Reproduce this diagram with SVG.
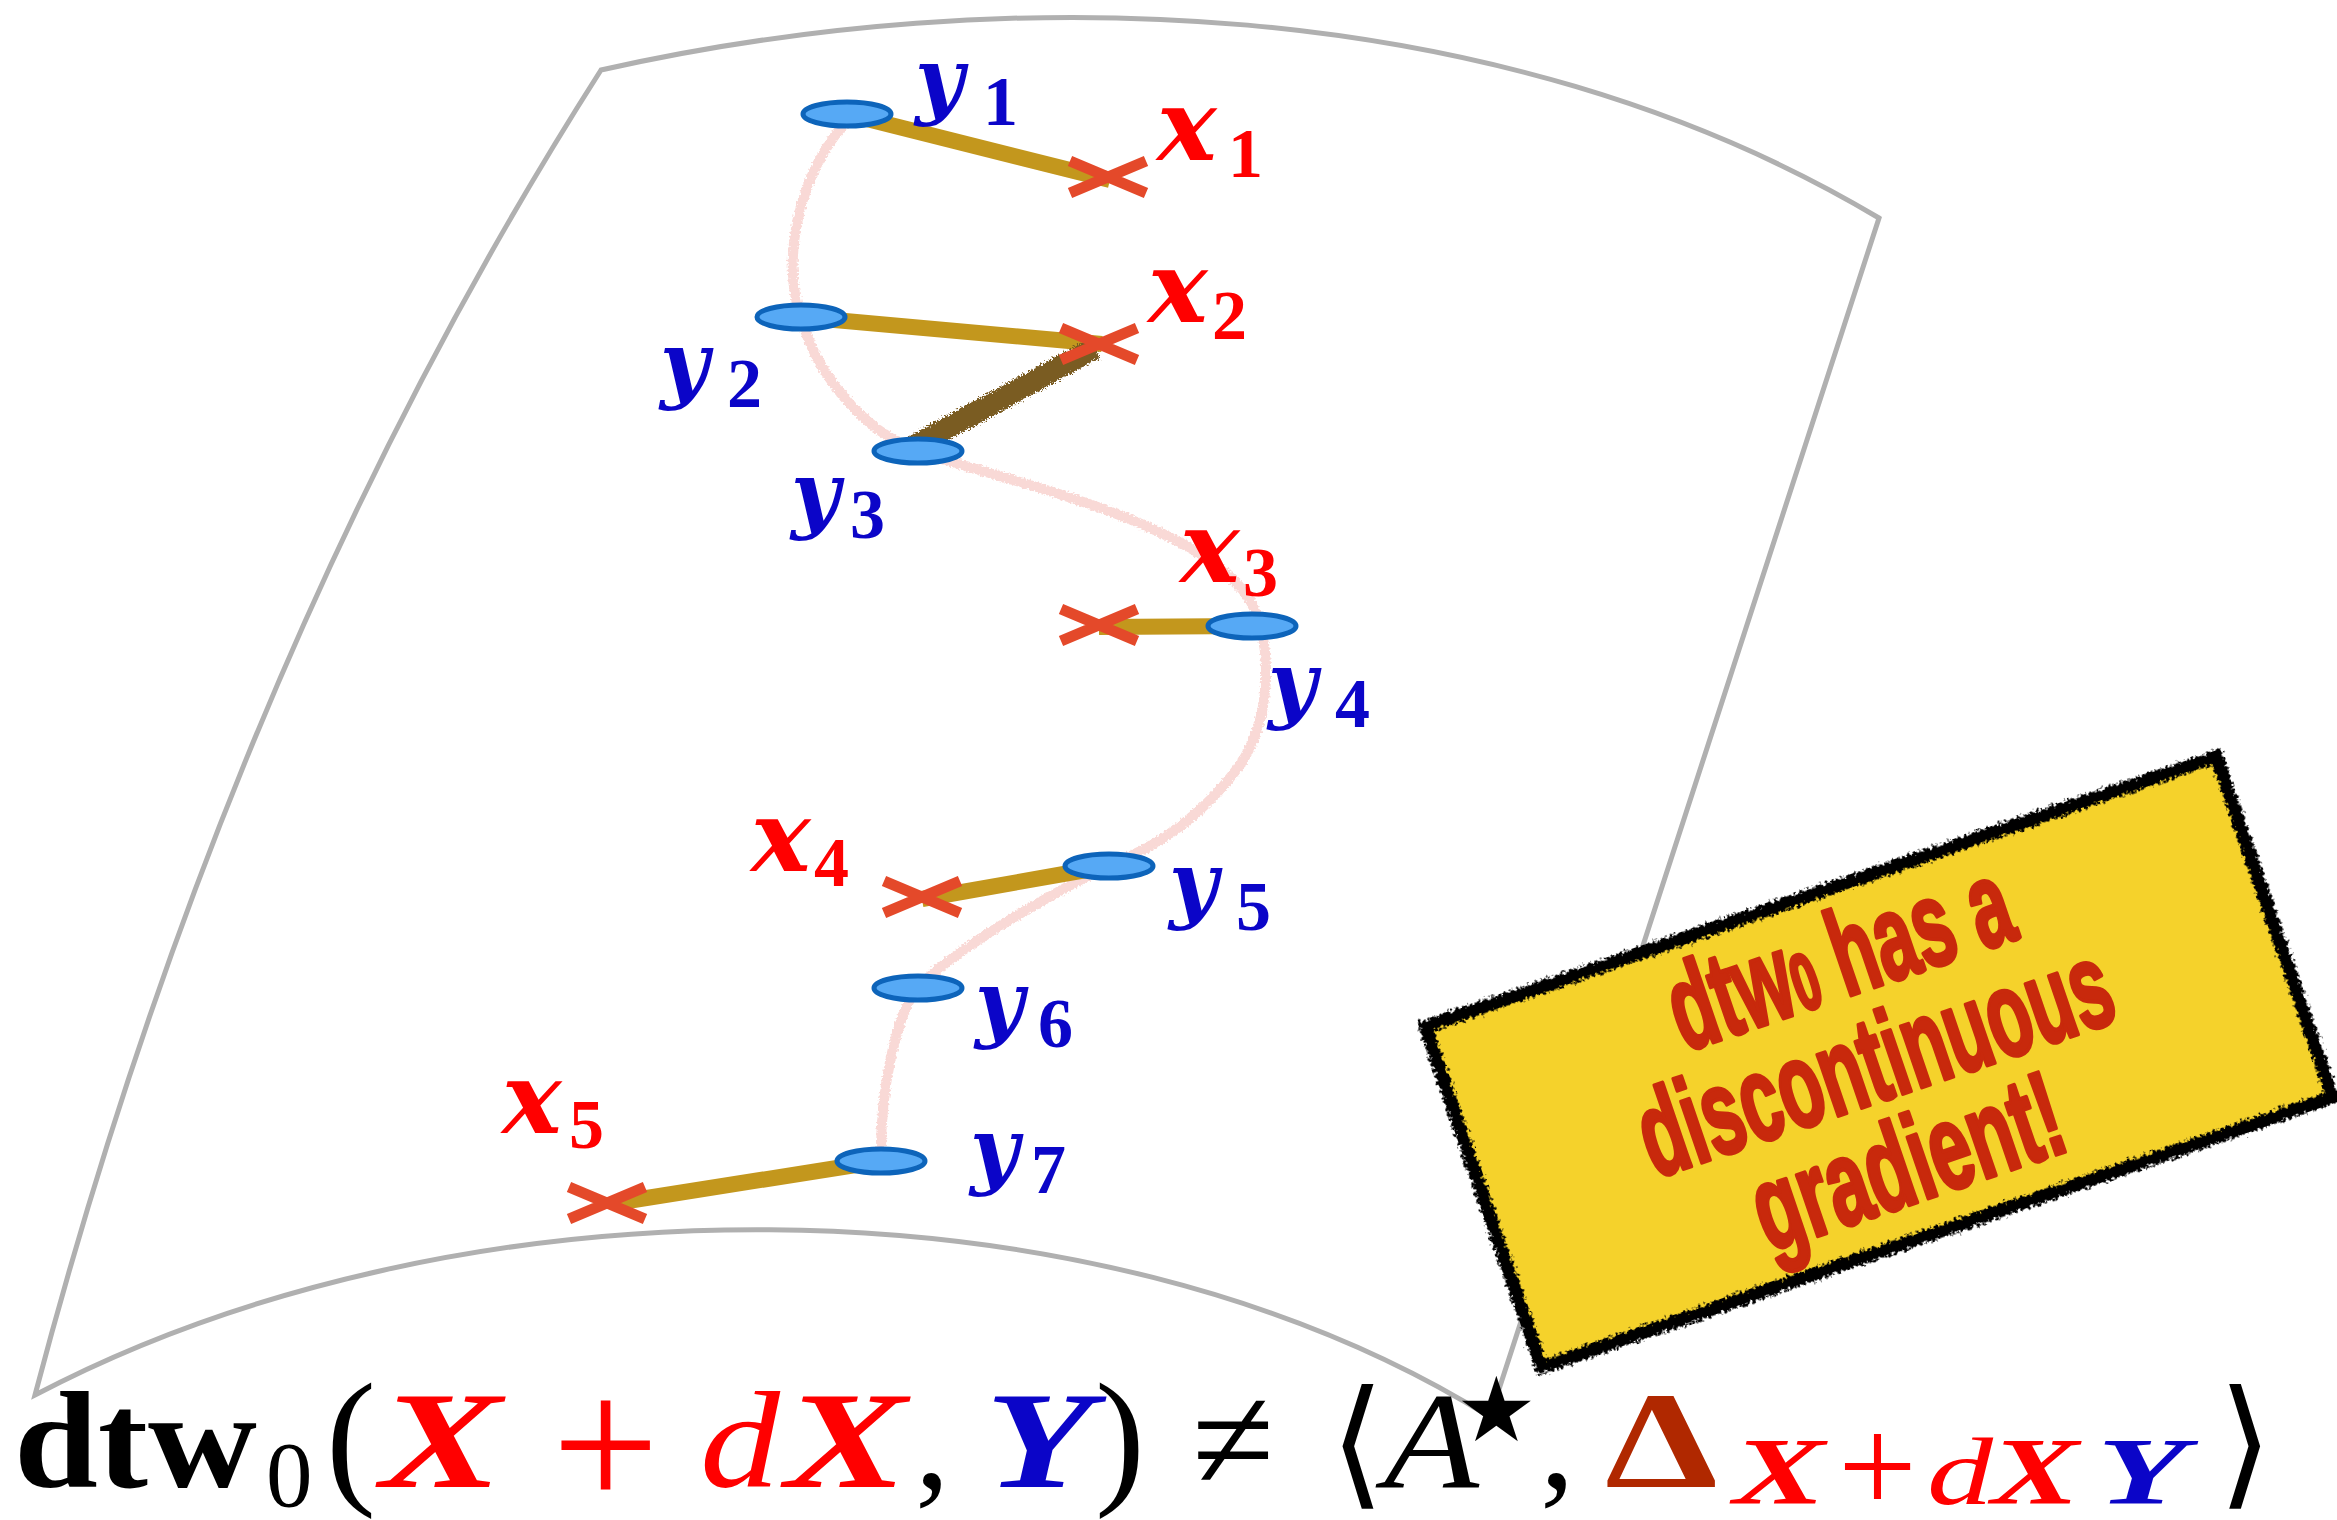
<svg xmlns="http://www.w3.org/2000/svg" width="2337" height="1520" viewBox="0 0 2337 1520">
<style>
.lab{font-family:"DejaVu Serif","Liberation Serif",serif;font-weight:bold;font-style:italic;font-size:84px}
.xl{font-size:100px}
.sub{font-family:"Liberation Serif",serif;font-style:normal;font-size:70px}
.blue{fill:#0b05c8}
.red{fill:#ff0000}
.node{fill:#56a9f5;stroke:#0d64ba;stroke-width:5}
.cross{stroke:#e4492a;stroke-width:11;stroke-linecap:butt}
.gold{stroke:#c3971d;stroke-width:16;stroke-linecap:butt;fill:none}
.brown{stroke:#7a5b22;stroke-width:22;stroke-linecap:butt;fill:none}
.bi{font-weight:bold;font-style:italic}
.note{font-family:"Liberation Sans Narrow","Liberation Sans",sans-serif;font-weight:bold;fill:#c8290c;stroke:#c8290c;stroke-width:4;stroke-linejoin:round}
</style>
<defs>
<filter id="pencil" x="-10%" y="-10%" width="120%" height="120%">
<feTurbulence type="fractalNoise" baseFrequency="0.5" numOctaves="2" seed="2" result="n"/>
<feDisplacementMap in="SourceGraphic" in2="n" scale="6" xChannelSelector="R" yChannelSelector="G"/>
</filter>
<filter id="roughB" x="-20%" y="-20%" width="140%" height="140%">
<feTurbulence type="fractalNoise" baseFrequency="0.6" numOctaves="2" seed="5" result="n"/>
<feDisplacementMap in="SourceGraphic" in2="n" scale="9" xChannelSelector="R" yChannelSelector="G"/>
</filter>
<filter id="roughBorder" x="-5%" y="-5%" width="110%" height="110%">
<feTurbulence type="fractalNoise" baseFrequency="0.3" numOctaves="2" seed="7" result="n"/>
<feDisplacementMap in="SourceGraphic" in2="n" scale="11" xChannelSelector="R" yChannelSelector="G"/>
</filter>
</defs>
<rect width="2337" height="1520" fill="#fff"/>
<g id="sheet" fill="none" stroke="#b0b0b0" stroke-width="5" stroke-linejoin="miter">
<path d="M601,70 C1001,-20 1499,-9 1879,218 L1490,1417 C1090,1168 455,1174 35,1395 Q232,648 601,70 Z"/>
</g>
<g id="connectors">
<path id="warp-path" d="M848,120 C800,170 780,260 801,317 C815,370 860,430 918,451 C1000,480 1200,520 1250,600 C1275,650 1270,720 1240,765 C1200,820 1150,850 1107,866 C1050,895 960,945 917,988 C895,1020 880,1090 881,1161" fill="none" stroke="#f9d9d6" stroke-width="10" filter="url(#pencil)"/>
<line class="gold" x1="847" y1="114" x2="1110" y2="180"/>
<line class="gold" x1="801" y1="317" x2="1102" y2="344"/>
<line class="gold" x1="1252" y1="626" x2="1099" y2="627"/>
<line class="gold" x1="1109" y1="866" x2="922" y2="899"/>
<line class="gold" x1="881" y1="1161" x2="615" y2="1203"/>
<line class="brown" x1="1095" y1="348" x2="912" y2="447" filter="url(#roughB)"/>
<line class="brown" x1="920" y1="900" x2="920" y2="984" filter="url(#roughB)"/>
</g>
<g id="x1"><path class="cross" d="M1070,161 L1146,193 M1070,193 L1146,161"/><text class="lab xl red" x="1157" y="160">x<tspan class="sub" x="1228" y="177">1</tspan></text></g>
<g id="x2"><path class="cross" d="M1061,328 L1137,360 M1061,360 L1137,328"/><text class="lab xl red" x="1148" y="322">x<tspan class="sub" x="1212" y="339">2</tspan></text></g>
<g id="x3"><path class="cross" d="M1061,609 L1137,641 M1061,641 L1137,609"/><text class="lab xl red" x="1180" y="582">x<tspan class="sub" x="1243" y="596">3</tspan></text></g>
<g id="x4"><path class="cross" d="M884,881 L960,913 M884,913 L960,881"/><text class="lab xl red" x="751" y="871">x<tspan class="sub" x="814" y="886">4</tspan></text></g>
<g id="x5"><path class="cross" d="M569,1187 L645,1219 M569,1219 L645,1187"/><text class="lab xl red" x="502" y="1133">x<tspan class="sub" x="569" y="1148">5</tspan></text></g>
<g id="y1"><ellipse class="node" cx="847" cy="114" rx="44" ry="12"/><text class="lab blue" x="915" y="108">y<tspan class="sub" x="983" y="125">1</tspan></text></g>
<g id="y2"><ellipse class="node" cx="801" cy="317" rx="44" ry="12"/><text class="lab blue" x="660" y="392">y<tspan class="sub" x="727" y="407">2</tspan></text></g>
<g id="y3"><ellipse class="node" cx="918" cy="451" rx="44" ry="12"/><text class="lab blue" x="791" y="522">y<tspan class="sub" x="850" y="538">3</tspan></text></g>
<g id="y4"><ellipse class="node" cx="1252" cy="626" rx="44" ry="12"/><text class="lab blue" x="1268" y="712">y<tspan class="sub" x="1335" y="727">4</tspan></text></g>
<g id="y5"><ellipse class="node" cx="1109" cy="866" rx="44" ry="12"/><text class="lab blue" x="1169" y="912">y<tspan class="sub" x="1236" y="930">5</tspan></text></g>
<g id="y6"><ellipse class="node" cx="918" cy="988" rx="44" ry="12"/><text class="lab blue" x="975" y="1031">y<tspan class="sub" x="1038" y="1047">6</tspan></text></g>
<g id="y7"><ellipse class="node" cx="881" cy="1161" rx="44" ry="12"/><text class="lab blue" x="970" y="1178">y<tspan class="sub" x="1031" y="1193">7</tspan></text></g>
<g id="note" transform="translate(1879,1062) rotate(-18.85)">
<rect x="-418" y="-180" width="836" height="360" fill="#f5d22b"/>
<rect x="-418" y="-180" width="836" height="360" fill="none" stroke="#000" stroke-width="13" filter="url(#roughBorder)"/>
<text class="note" x="-181" y="-72" font-size="122" textLength="355" lengthAdjust="spacingAndGlyphs">dtw<tspan font-size="80">0</tspan> has a</text>
<text class="note" x="-250" y="38" font-size="122" textLength="493" lengthAdjust="spacingAndGlyphs">discontinuous</text>
<text class="note" x="-166" y="145" font-size="122" textLength="321" lengthAdjust="spacingAndGlyphs">gradient!</text>
</g>
<g id="formula" font-family="Liberation Serif, DejaVu Serif, serif" font-size="138" fill="#000">
<text x="14" y="1487" font-weight="bold" textLength="243" lengthAdjust="spacingAndGlyphs">dtw</text>
<text x="266" y="1506" font-size="93">0</text>
<text x="326" y="1487" font-size="150">(</text>
<text class="bi red" x="380" y="1487" textLength="122" lengthAdjust="spacingAndGlyphs">X</text>
<text class="red" x="552" y="1509" font-size="190">+</text>
<text class="red" x="700" y="1487" font-style="italic" textLength="80" lengthAdjust="spacingAndGlyphs">d</text>
<text class="bi red" x="785" y="1487" textLength="122" lengthAdjust="spacingAndGlyphs">X</text>
<text x="915" y="1487">,</text>
<text class="bi blue" x="985" y="1487" textLength="108" lengthAdjust="spacingAndGlyphs">Y</text>
<text x="1095" y="1487" font-size="150">)</text>
<text x="1192" y="1490" font-size="150">≠</text>
<text x="1330" y="1490" font-size="140" font-family="DejaVu Sans, sans-serif">⟨</text>
<text x="1384" y="1487" font-style="italic" textLength="95" lengthAdjust="spacingAndGlyphs">A</text>
<text x="1440" y="1468" font-size="180" font-family="DejaVu Sans, sans-serif">⋆</text>
<text x="1540" y="1487">,</text>
<text x="1605" y="1487" font-weight="bold" fill="#b02800" textLength="113" lengthAdjust="spacingAndGlyphs">Δ</text>
<text class="bi red" x="1733" y="1504" font-size="96" textLength="92" lengthAdjust="spacingAndGlyphs">X</text>
<text class="red" x="1838" y="1513" font-size="140">+</text>
<text class="red" x="1927" y="1504" font-size="96" font-style="italic" textLength="66" lengthAdjust="spacingAndGlyphs">d</text>
<text class="bi red" x="1991" y="1504" font-size="96" textLength="88" lengthAdjust="spacingAndGlyphs">X</text>
<text class="bi blue" x="2097" y="1504" font-size="96" textLength="90" lengthAdjust="spacingAndGlyphs">Y</text>
<text x="2218" y="1490" font-size="140" font-family="DejaVu Sans, sans-serif">⟩</text>
</g>
</svg>
